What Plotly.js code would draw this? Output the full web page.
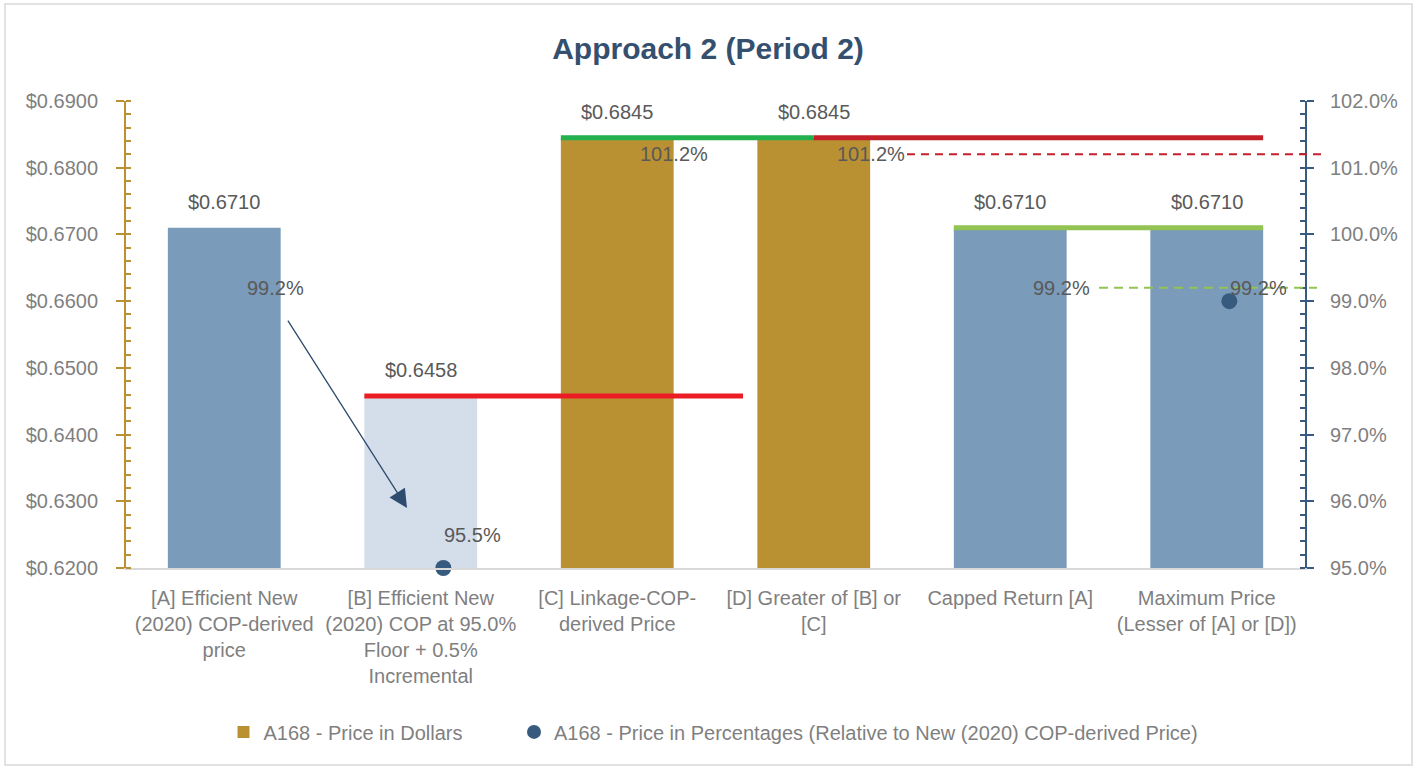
<!DOCTYPE html>
<html>
<head>
<meta charset="utf-8">
<script src="https://cdn.plot.ly/plotly-3.0.1.min.js"></script>
<style>
  html, body { margin: 0; padding: 0; background: #ffffff; }
  #chart { width: 1416px; height: 768px; }
</style>
</head>
<body>
<div id="chart"></div>
<script>
// ---- data ----
const categories = [
  "[A] Efficient New<br>(2020) COP-derived<br>price",
  "[B] Efficient New<br>(2020) COP at 95.0%<br>Floor + 0.5%<br>Incremental",
  "[C] Linkage-COP-<br>derived Price",
  "[D] Greater of [B] or<br>[C]",
  "Capped Return [A]",
  "Maximum Price<br>(Lesser of [A] or [D])"
];
const priceDollars = [0.6710, 0.6458, 0.6845, 0.6845, 0.6710, 0.6710];
const pricePctLabels = [99.2, 95.5, 101.2, 101.2, 99.2, 99.2];
const pctMarkers = [null, 95.0, null, null, null, 99.0];
const dollarTicks = [0.62, 0.63, 0.64, 0.65, 0.66, 0.67, 0.68, 0.69];
const pctTicks = [95, 96, 97, 98, 99, 100, 101, 102];
const seriesNames = ["A168 - Price in Dollars", "A168 - Price in Percentages (Relative to New (2020) COP-derived Price)"];

// ---- styles ----
const FONT = '"Liberation Sans Narrow", "Arial Narrow", "Liberation Sans", Arial, sans-serif';
const barColors = ['#7A9BBA', '#D3DEEA', '#BA9132', '#BA9132', '#7A9BBA', '#7A9BBA'];
const GOLD = '#BA9132';
const NAVY = '#375A7F';
const TXT = '#595959';
const TICK = '#7F7F7F';
const BARW = 0.574;
const half = BARW / 2;
const xs = categories.map((_, i) => i);

const traces = [
  {
    type: 'bar', x: xs, y: priceDollars, width: BARW,
    marker: { color: barColors, line: { width: 0 } },
    showlegend: false, hoverinfo: 'y', yaxis: 'y'
  },
  {
    type: 'scatter', mode: 'markers', x: xs.map(i => i + 0.115), y: pctMarkers,
    yaxis: 'y2', marker: { color: NAVY, size: 16 }, cliponaxis: false,
    showlegend: false, hoverinfo: 'y'
  },
  // legend entries
  { type: 'bar', x: [null], y: [null], name: seriesNames[0], marker: { color: GOLD },
    showlegend: true, yaxis: 'y', legend: 'legend' },
  { type: 'scatter', mode: 'markers', x: [null], y: [null], name: seriesNames[1], marker: { color: NAVY, size: 14 },
    showlegend: true, yaxis: 'y2', legend: 'legend2' }
];

const annotations = [];
priceDollars.forEach((v, i) => {
  annotations.push({
    x: i, y: v, xref: 'x', yref: 'y', text: '$' + v.toFixed(4),
    showarrow: false, yanchor: 'bottom', yshift: 13,
    font: { family: FONT, size: 20, color: TXT }
  });
});
pricePctLabels.forEach((v, i) => {
  annotations.push({
    x: i, y: v, xref: 'x', yref: 'y2', text: v.toFixed(1) + '%',
    showarrow: false, xanchor: 'left', xshift: 21, yanchor: 'middle',
    font: { family: FONT, size: 20, color: TXT }
  });
});
// arrow from A's percentage down to B
annotations.push({
  x: 0.93, y: 95.9, xref: 'x', yref: 'y2',
  ax: 0.319, ay: 98.73, axref: 'x', ayref: 'y2',
  showarrow: true, arrowhead: 2, arrowsize: 2.8, arrowwidth: 1.3,
  arrowcolor: '#2F4B6E', text: ''
});

const shapes = [
  // chart frame
  { type: 'rect', xref: 'paper', yref: 'paper', x0: -0.1026, x1: 1.0908, y0: -0.4218, y1: 1.2077,
    line: { color: '#D9D9D9', width: 1.5 }, fillcolor: 'rgba(0,0,0,0)', layer: 'below' },
  // floor line at B
  { type: 'line', xref: 'x', yref: 'y', x0: 1 - half, x1: 2.64, y0: priceDollars[1], y1: priceDollars[1],
    line: { color: '#EC1C24', width: 5 } },
  // C level (green) and D level (red)
  { type: 'line', xref: 'x', yref: 'y', x0: 2 - half, x1: 3.0, y0: priceDollars[2], y1: priceDollars[2],
    line: { color: '#22B14C', width: 5 } },
  { type: 'line', xref: 'x', yref: 'y', x0: 3.0, x1: 5 + half, y0: priceDollars[3], y1: priceDollars[3],
    line: { color: '#C4202A', width: 5 } },
  // capped level (light green)
  { type: 'line', xref: 'x', yref: 'y', x0: 4 - half, x1: 5 + half, y0: priceDollars[4], y1: priceDollars[4],
    line: { color: '#92C353', width: 5 } },
  // dashed percentage references (extend past the right axis)
  { type: 'line', xref: 'paper', yref: 'y2', x0: 0.6624, x1: 1.0144, y0: pricePctLabels[3], y1: pricePctLabels[3],
    line: { color: '#C4202A', width: 2, dash: '8px,6px' } },
  { type: 'line', xref: 'paper', yref: 'y2', x0: 0.8253, x1: 1.0102, y0: pricePctLabels[5], y1: pricePctLabels[5],
    line: { color: '#92C353', width: 2, dash: '9px,6px' } }
];

const legendStyle = {
  orientation: 'h', xanchor: 'left', y: -0.351, yanchor: 'middle',
  font: { family: FONT, size: 20, color: TICK }, itemwidth: 30, bgcolor: 'rgba(0,0,0,0)'
};

const layout = {
  width: 1416, height: 768,
  margin: { l: 126, r: 111, t: 101, b: 200 },
  paper_bgcolor: '#ffffff', plot_bgcolor: '#ffffff',
  font: { family: FONT, size: 20, color: TXT },
  title: {
    text: '<b>Approach 2 (Period 2)</b>',
    x: 0.5, xanchor: 'center', xref: 'container',
    y: 1 - 48 / 768, yanchor: 'middle', yref: 'container',
    font: { family: FONT, size: 30, color: '#34506E' }
  },
  barmode: 'overlay',
  xaxis: {
    range: [-0.5, 5.5], tickmode: 'array', tickvals: xs, ticktext: categories,
    showgrid: false, zeroline: false, showline: true, linecolor: '#D9D9D9', linewidth: 1.5,
    ticks: '', ticklabelstandoff: 11,
    tickfont: { family: FONT, size: 20, color: TICK }, fixedrange: true
  },
  yaxis: {
    range: [0.62, 0.69], tickmode: 'array', tickvals: dollarTicks, tickformat: '$.4f',
    showgrid: false, zeroline: false, showline: true, linecolor: GOLD, linewidth: 2,
    ticks: 'outside', ticklen: 8, tickwidth: 2, tickcolor: GOLD,
    minor: { ticks: 'inside', ticklen: 5, tickwidth: 1.5, tickcolor: GOLD, dtick: 0.002, showgrid: false },
    ticklabelstandoff: 14,
    tickfont: { family: FONT, size: 20, color: TICK }
  },
  yaxis2: {
    overlaying: 'y', side: 'right', anchor: 'x',
    range: [95, 102], tickmode: 'array', tickvals: pctTicks,
    ticktext: pctTicks.map(v => v.toFixed(1) + '%'),
    showgrid: false, zeroline: false, showline: true, linecolor: NAVY, linewidth: 2,
    ticks: 'outside', ticklen: 7, tickwidth: 2, tickcolor: NAVY,
    minor: { ticks: 'inside', ticklen: 5, tickwidth: 1.5, tickcolor: NAVY, dtick: 0.2, showgrid: false },
    ticklabelstandoff: 12,
    tickfont: { family: FONT, size: 20, color: TICK }
  },
  legend: Object.assign({}, legendStyle, { x: 0.0827 }),
  legend2: Object.assign({}, legendStyle, { x: 0.3291 }),
  showlegend: true,
  annotations: annotations,
  shapes: shapes
};

Plotly.newPlot('chart', traces, layout, { displayModeBar: false, responsive: false });
</script>
</body>
</html>
